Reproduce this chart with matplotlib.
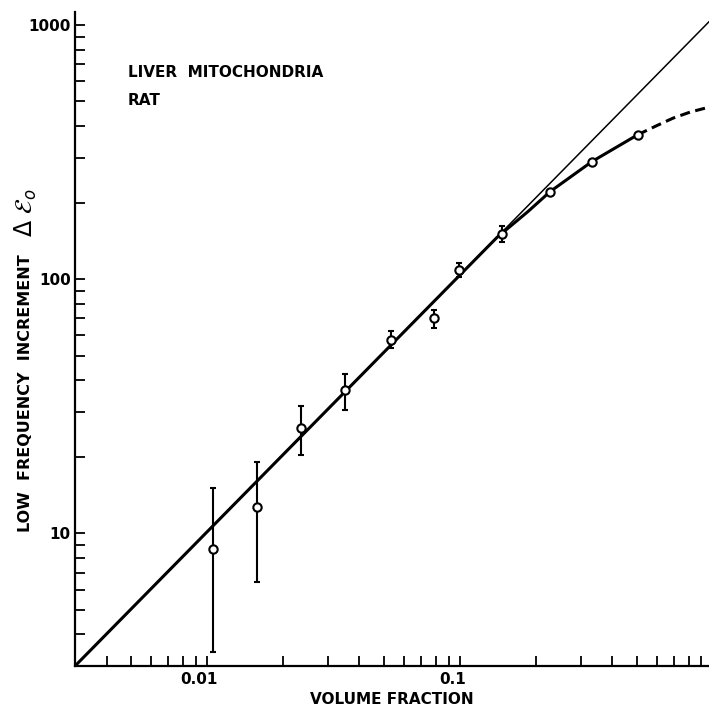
import matplotlib
matplotlib.use('Agg')
import matplotlib.pyplot as plt
from matplotlib.ticker import FixedLocator, FixedFormatter, LogLocator, NullFormatter
from matplotlib.transforms import ScaledTranslation

# measured points (volume fraction, low frequency increment) with error bar limits
frac = [0.0105, 0.0157, 0.0235, 0.0351, 0.0532, 0.0791, 0.0993, 0.147, 0.227, 0.332, 0.504]
incr = [8.7, 12.7, 25.9, 36.5, 57.5, 70.0, 108.4, 151.0, 221.0, 290.0, 370.0]
err_hi = [15.0, 19.0, 31.6, 42.3, 62.4, 75.5, 115.6, 161.8, 221.0, 290.0, 370.0]
err_lo = [3.4, 6.4, 20.3, 30.5, 53.5, 64.1, 102.0, 140.0, 221.0, 290.0, 370.0]

# straight proportional line (end points)
line_x = [0.003, 0.964]
line_y = [3.0, 1030.0]

# hand drawn curve through the points, solid part and dashed extrapolation
curve_x = [0.003, 0.14, 0.185, 0.227, 0.332, 0.504]
curve_y = [3.0, 146.0, 184.0, 221.0, 290.0, 370.0]
dash_x = [0.504, 0.60, 0.695, 0.811, 0.964]
dash_y = [370.0, 402.0, 430.0, 454.0, 475.0]

x_ticks = [0.01, 0.1]
x_ticklabels = ['0.01', '0.1']
y_ticks = [10, 100, 1000]
y_ticklabels = ['10', '100', '1000']

fnt = dict(family='DejaVu Sans', weight='bold', size=11)

fig = plt.figure(figsize=(7.09, 7.07), dpi=100)
ax = fig.add_axes([75/709, 41/707, 634/709, 654/707])
ax.set_xscale('log')
ax.set_yscale('log')
ax.set_xlim(0.003, 0.964)
ax.set_ylim(3, 1125)

ax.plot(line_x, line_y, color='k', lw=1.1)
ax.plot(curve_x, curve_y, color='k', lw=2.2, solid_capstyle='butt', solid_joinstyle='round')
ax.plot(dash_x, dash_y, color='k', lw=2.2, dashes=(3.3, 1.8))

yerr = [[v - lo for v, lo in zip(incr, err_lo)], [hi - v for v, hi in zip(incr, err_hi)]]
ax.errorbar(frac, incr, yerr=yerr, fmt='o', ms=6, mfc='white', mec='k', mew=1.5,
            ecolor='k', elinewidth=1.5, capsize=2.4, capthick=1.5, zorder=5)

for s in ['top', 'right']:
    ax.spines[s].set_visible(False)
for s in ['left', 'bottom']:
    ax.spines[s].set_linewidth(1.6)

ax.xaxis.set_major_locator(FixedLocator(x_ticks))
ax.xaxis.set_major_formatter(FixedFormatter(x_ticklabels))
ax.yaxis.set_major_locator(FixedLocator(y_ticks))
ax.yaxis.set_major_formatter(FixedFormatter(y_ticklabels))
ax.xaxis.set_minor_locator(LogLocator(base=10, subs=range(2, 10)))
ax.yaxis.set_minor_locator(LogLocator(base=10, subs=range(2, 10)))
ax.xaxis.set_minor_formatter(NullFormatter())
ax.yaxis.set_minor_formatter(NullFormatter())
ax.tick_params(which='both', direction='in', length=7.5, width=1.3)
ax.tick_params(axis='x', pad=4)
ax.tick_params(axis='y', pad=3)
shift = ScaledTranslation(-8/100, 0, fig.dpi_scale_trans)
for lab in ax.get_xticklabels():
    lab.set_transform(lab.get_transform() + shift)
for lab in ax.get_xticklabels() + ax.get_yticklabels():
    lab.set_fontproperties(matplotlib.font_manager.FontProperties(**fnt))

ax.set_xlabel('VOLUME FRACTION', **fnt)
ax.xaxis.set_label_coords(0.5, -0.04)
ax.set_ylabel('LOW  FREQUENCY  INCREMENT', family='DejaVu Sans', weight='bold', size=11.5)
ax.yaxis.set_label_coords(-0.066, 0.418)
ax.text(-0.077, 0.693, r'$\Delta\ \mathcal{E}_o$', transform=ax.transAxes, rotation=90,
        ha='center', va='center', size=17)

ax.text(0.0836, 0.908, 'LIVER  MITOCHONDRIA', transform=ax.transAxes, va='center', ha='left', **fnt)
ax.text(0.0836, 0.865, 'RAT', transform=ax.transAxes, va='center', ha='left', **fnt)

fig.savefig('out.png', dpi=100)
